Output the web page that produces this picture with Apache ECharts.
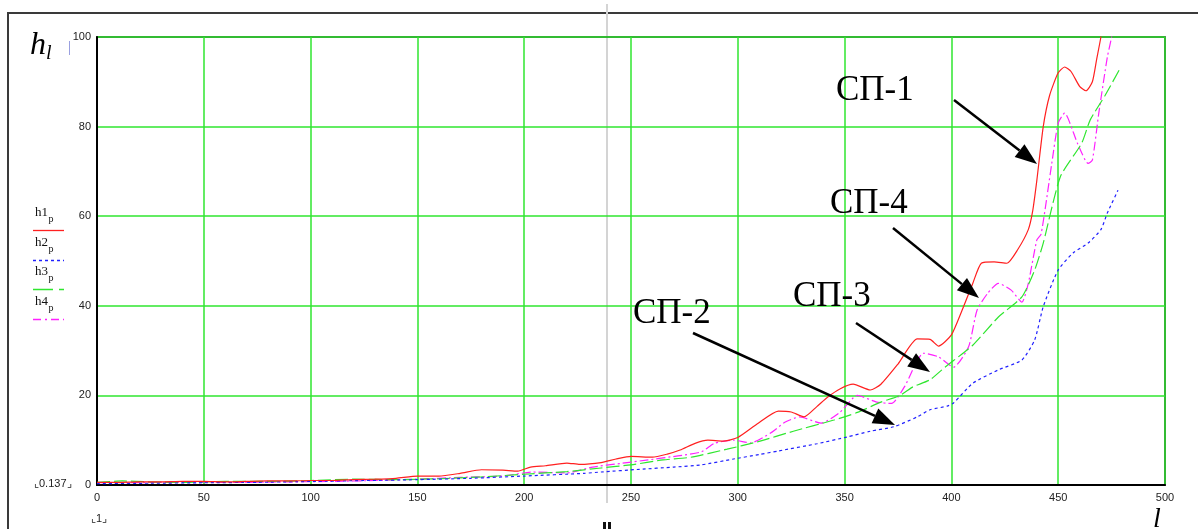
<!DOCTYPE html>
<html>
<head>
<meta charset="utf-8">
<script src="https://cdn.jsdelivr.net/npm/echarts@6/dist/echarts.min.js"></script>
<style>
html,body{margin:0;padding:0;background:#fff;}
#c{width:1198px;height:529px;}
</style>
</head>
<body>
<div id="c"></div>
<script>
// ---- data ----
const xTicks = [0, 50, 100, 150, 200, 250, 300, 350, 400, 450, 500];
const yTicks = [0, 20, 40, 60, 80, 100];
const seriesNames = ['h1p', 'h2p', 'h3p', 'h4p'];
const annotationLabels = ['СП-1', 'СП-4', 'СП-3', 'СП-2'];

const h1X = [0,10,20,30,40,50,60,70,80,90,100,110,120,130,140,150,160,170,180,190,197,203,210,220,226,236,243,250,260,267,273,280,286,293,300,309,319,325,331,337,342,348,354,362,367,375,384,390,394,400,405,410,414,420,426,431,436,438,440,443,446,450,453,456,460,463,466,468,470,472];
const h1Y = [0.6,0.6,0.7,0.7,0.8,0.8,0.7,0.8,0.9,0.9,1.0,1.0,1.2,1.3,1.5,2.0,2.0,2.6,3.4,3.3,3.1,4.0,4.3,4.9,4.6,5.0,5.8,6.4,6.2,6.9,7.8,9.3,10.0,9.8,10.6,13.6,16.5,16.3,15.2,17.5,19.6,21.5,22.5,21.2,22.5,27,32.6,32.5,31,33.5,39,45,49.5,49.8,49.5,52.5,57,61,68,80,87,92,93.3,92.3,89,88,90,95,100,106];

const h2X = [0,25,50,75,100,125,150,175,200,228,236,254,270,283,298,310,319,337,351,362,373,384,390,398,401,410,422,433,439,443,450,457,464,470,473,478];
const h2Y = [0.3,0.4,0.5,0.6,0.8,1.0,1.2,1.5,2.0,2.6,2.9,3.5,4.0,4.5,5.8,6.8,7.6,9.2,10.7,12.0,13.0,15.2,16.8,17.6,18.3,22.7,25.7,27.9,32.4,39.8,48,51.8,54,57,60.7,65.8];

const h3X = [0,12,25,40,60,80,100,120,140,160,180,200,220,236,250,265,278,295,309,326,345,356,367,376,382,390,397,410,422,433,439,443,451,461,465,472,479];
const h3Y = [0.6,0.9,0.7,0.6,0.8,0.8,1.0,1.3,1.2,1.4,1.8,2.4,3.0,3.8,4.5,5.6,6.2,8.0,9.6,12.0,14.5,16.2,18.5,20,21.9,23.5,26.3,31.2,37.5,42,48,54,68.8,76.3,81.5,87,93];

const h4X = [0,15,30,50,70,90,110,130,150,170,190,204,220,232,245,258,272,283,289,298,306,316,322,329,339,348,356,365,372,378,387,394,401,408,412,417,422,428,433,436,440,442,447,450,453,459,464,466,469,473,475,476];
const h4Y = [0.5,0.5,0.6,0.6,0.6,0.7,0.8,1.0,1.3,1.7,2.0,2.9,2.7,4.0,4.8,5.6,6.5,7.4,9.3,10.0,9.4,11.8,14.0,15.2,13.8,16.3,20.0,18.5,18.2,21.9,29.4,28.6,26.3,30.8,39,42.8,45,43.5,40.8,45,54.7,56,71.8,80.8,83,76.3,71.8,72.5,83,95.5,100,104];

function pairs(xs, ys){ return xs.map((x,i)=>[x, ys[i]]); }

const GREEN = '#2fe62f';
const chart = echarts.init(document.getElementById('c'), null, {renderer:'canvas'});

function arrow(x1,y1,x2,y2){
  const ang = Math.atan2(y2-y1, x2-x1);
  const L = 22, W = 8;
  const bx = x2 - L*Math.cos(ang), by = y2 - L*Math.sin(ang);
  const px = -Math.sin(ang)*W, py = Math.cos(ang)*W;
  return [
    {type:'line', shape:{x1:x1,y1:y1,x2:bx,y2:by}, style:{stroke:'#000', lineWidth:2.5}, z:100},
    {type:'polygon', shape:{points:[[x2,y2],[bx+px,by+py],[bx-px,by-py]]}, style:{fill:'#000'}, z:100}
  ];
}

const serifFont = '"Liberation Serif", "Times New Roman", serif';
const graphics = [
  // outer frame
  {type:'rect', shape:{x:8,y:13,width:1400,height:800}, style:{fill:null, stroke:'#3a3a3a', lineWidth:2}, z:-10, silent:true},
  // gray vertical line
  {type:'line', shape:{x1:607,y1:4,x2:607,y2:503}, style:{stroke:'#d4d4d4', lineWidth:2}, z:-5},
  {type:'rect', shape:{x:603,y:522,width:3,height:7}, style:{fill:'#111'}},
  {type:'rect', shape:{x:608,y:522,width:3,height:7}, style:{fill:'#111'}},
  // small blue mark near h_l
  {type:'line', shape:{x1:69.5,y1:41,x2:69.5,y2:55}, style:{stroke:'#9aa0e0', lineWidth:1}},
  // axis title h_l
  {type:'text', style:{text:'h', x:30, y:30, font:'italic 32px ' + serifFont, fill:'#000'}},
  {type:'text', style:{text:'l', x:46, y:44, font:'italic 20px ' + serifFont, fill:'#000'}},
  // axis title l
  {type:'text', style:{text:'l', x:1153, y:506, font:'italic 28px ' + serifFont, fill:'#000'}},
  // 0.137 and 1 labels
  {type:'text', style:{text:'⌞0.137⌟', x:34, y:478, font:'11px "Liberation Sans", Arial, sans-serif', fill:'#222'}},
  {type:'text', style:{text:'⌞1⌟', x:91, y:513, font:'11px "Liberation Sans", Arial, sans-serif', fill:'#222'}}
];

// legend
const legendStyles = [
  {color:'#ff2020', dash:null},
  {color:'#2020ff', dash:[3,3]},
  {color:GREEN, dash:[20,6]},
  {color:'#ff20ff', dash:[8,4,2,4]}
];
const legendY = [213, 243, 272, 302];
seriesNames.forEach((n, i)=>{
  graphics.push({type:'text', style:{text:n.slice(0,2), x:35, y:legendY[i]-7, font:'13px ' + serifFont, fill:'#111'}});
  graphics.push({type:'text', style:{text:'p', x:48.5, y:legendY[i]+1, font:'10px ' + serifFont, fill:'#111'}});
  const ls = legendStyles[i];
  graphics.push({type:'line', shape:{x1:33,y1:legendY[i]+17.5,x2:64,y2:legendY[i]+17.5},
    style:{stroke:ls.color, lineWidth:1.3, lineDash: ls.dash}});
});

// annotations
const annText = [[836,73],[830,186],[793,279],[633,296]];
annotationLabels.forEach((t,i)=>{
  graphics.push({type:'text', style:{text:t, x:annText[i][0], y:annText[i][1], font:'35px ' + serifFont, fill:'#000'}, z:100});
});
[[954,100,1037,164],[893,228,979,298],[856,323,930,372],[693,333,895,425]].forEach(a=>{
  arrow(a[0],a[1],a[2],a[3]).forEach(g=>graphics.push(g));
});

const data = [pairs(h1X,h1Y), pairs(h2X,h2Y), pairs(h3X,h3Y), pairs(h4X,h4Y)];
const lineTypes = ['solid', [3,3], [13,4], [9,3,2,3]];

chart.setOption({
  animation:false,
  backgroundColor:'#fff',
  grid:{left:97, top:37, right:33, bottom:44, show:true, borderColor:'#000', borderWidth:1.5, backgroundColor:'transparent'},
  xAxis:{
    type:'value', min:xTicks[0], max:xTicks[xTicks.length-1], interval:xTicks[1]-xTicks[0],
    axisLine:{show:true, onZero:false, lineStyle:{color:'#000', width:2}},
    axisTick:{show:false},
    axisLabel:{color:'#222', fontSize:11, fontFamily:'"Liberation Sans", Arial, sans-serif', margin:7},
    splitLine:{show:true, lineStyle:{color:GREEN, width:1.5}}
  },
  yAxis:{
    type:'value', min:yTicks[0], max:yTicks[yTicks.length-1], interval:yTicks[1]-yTicks[0],
    axisLine:{show:true, onZero:false, lineStyle:{color:'#000', width:2}},
    axisTick:{show:false},
    axisLabel:{color:'#222', fontSize:11, fontFamily:'"Liberation Sans", Arial, sans-serif', margin:6},
    splitLine:{show:true, lineStyle:{color:GREEN, width:1.5}}
  },
  series: data.map((d,i)=>({
    name: seriesNames[i], type:'line', data:d, showSymbol:false, symbol:'none', clip:true,
    smooth:0.2,
    lineStyle:{color:legendStyles[i].color, width:1.2, type:lineTypes[i]},
    z: 10-i
  })),
  graphic: graphics
});
</script>
</body>
</html>
